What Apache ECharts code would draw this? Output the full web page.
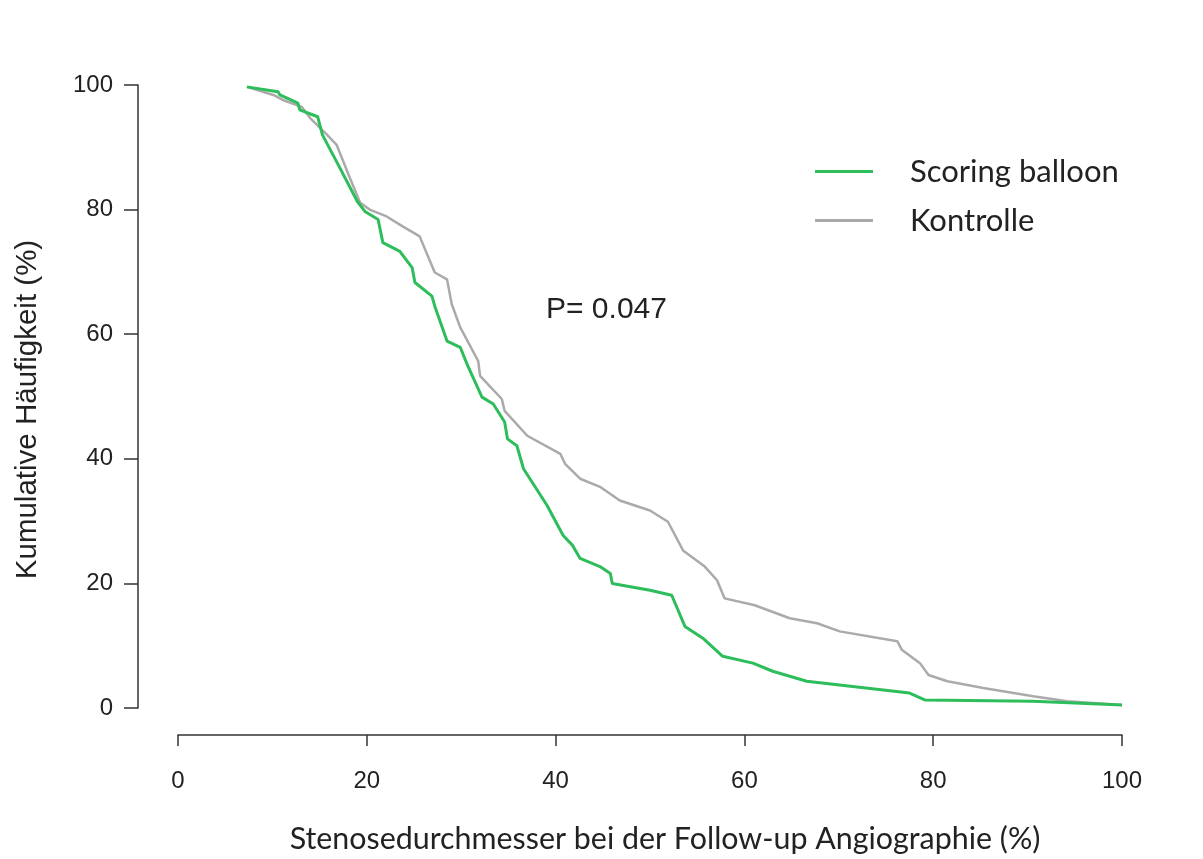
<!DOCTYPE html>
<html>
<head>
<meta charset="utf-8">
<script src="https://cdn.jsdelivr.net/npm/echarts@6/dist/echarts.min.js"></script>
<style>
  html, body { margin: 0; padding: 0; background: #fff; }
  #main { width: 1203px; height: 859px; }
</style>
</head>
<body>
<div id="main"></div>
<script>
var chart = echarts.init(document.getElementById('main'));

// Stenosedurchmesser (%) -> kumulative Häufigkeit (%)
var scoringX = [7.3, 10.6, 10.8, 12.7, 12.9, 14.8, 15.3, 16.8, 19.0, 19.8, 21.2, 21.7, 23.5, 24.8, 25.1,
    26.9, 27.2, 28.5, 29.9, 30.7, 32.2, 33.4, 34.6, 34.9, 35.9, 36.6, 39.1, 40.8, 41.8, 42.6, 44.7,
    45.8, 46.0, 50.0, 52.3, 53.7, 55.6, 57.7, 60.9, 63.0, 66.6, 77.5, 79.1, 90.6, 100];
var scoringY = [99.7, 98.9, 98.4, 97.1, 96.0, 94.9, 92.0, 87.7, 81.3, 79.7, 78.4, 74.7, 73.3, 70.7, 68.3,
    66.1, 64.5, 58.9, 57.9, 54.9, 49.9, 48.8, 45.9, 43.2, 42.1, 38.4, 32.5, 27.7, 26.1, 24.0, 22.7,
    21.6, 20.0, 18.9, 18.1, 13.1, 11.2, 8.3, 7.2, 5.9, 4.3, 2.4, 1.3, 1.1, 0.5];

var kontrolleX = [7.3, 10.1, 11.1, 13.1, 14.0, 15.8, 16.8, 18.2, 19.3, 20.3, 22.1, 23.8, 25.6, 26.4, 27.2,
    28.5, 29.0, 29.9, 31.8, 32.0, 34.3, 34.6, 37.0, 40.5, 41.0, 42.6, 44.7, 46.8, 50.0, 51.9, 53.5,
    55.8, 57.1, 57.9, 61.1, 64.8, 67.7, 70.1, 76.2, 76.7, 78.6, 79.5, 81.5, 85.3, 90.6, 94.2, 100];
var kontrolleY = [99.7, 98.4, 97.6, 96.5, 94.7, 92.0, 90.4, 85.1, 81.1, 80.0, 78.9, 77.3, 75.7, 72.8, 69.9,
    68.8, 64.8, 61.1, 55.7, 53.3, 49.6, 47.7, 43.7, 40.8, 39.2, 36.8, 35.5, 33.3, 31.7, 29.9, 25.3,
    22.7, 20.5, 17.6, 16.5, 14.4, 13.6, 12.3, 10.7, 9.3, 7.2, 5.3, 4.3, 3.2, 1.9, 1.1, 0.5];

var xTicks = [0, 20, 40, 60, 80, 100];
var yTicks = [0, 20, 40, 60, 80, 100];

function pairs(xs, ys) {
    return xs.map(function (x, i) { return [x, ys[i]]; });
}

var axisColor = '#333';
var tickFont = { fontFamily: 'Liberation Sans', fontSize: 24, color: '#222' };

var option = {
    backgroundColor: '#fff',
    animation: false,
    grid: { left: 178, right: 81, top: 85, bottom: 147 },
    legend: {
        orient: 'vertical',
        left: 815,
        top: 156,
        padding: 0,
        itemGap: 18,
        itemWidth: 58,
        itemHeight: 3,
        icon: 'rect',
        data: ['Scoring balloon', 'Kontrolle'],
        textStyle: {
            fontFamily: 'Lato',
            fontSize: 31,
            color: '#222',
            padding: [0, 0, 0, 32]
        }
    },
    xAxis: {
        type: 'value',
        min: xTicks[0],
        max: xTicks[xTicks.length - 1],
        interval: 20,
        offset: 27,
        name: 'Stenosedurchmesser bei der Follow-up Angiographie (%)',
        nameLocation: 'middle',
        nameGap: 89,
        nameTextStyle: { fontFamily: 'Lato', fontSize: 30.4, color: '#222', padding: [0, 0, 0, 30] },
        splitLine: { show: false },
        axisLine: { onZero: false, lineStyle: { color: axisColor, width: 1.5 } },
        axisTick: { length: 11, lineStyle: { color: axisColor, width: 1.5 } },
        axisLabel: Object.assign({ margin: 34 }, tickFont)
    },
    yAxis: {
        type: 'value',
        min: yTicks[0],
        max: yTicks[yTicks.length - 1],
        interval: 20,
        offset: 40,
        name: 'Kumulative Häufigkeit (%)',
        nameLocation: 'middle',
        nameGap: 95,
        nameTextStyle: { fontFamily: 'Liberation Sans', fontSize: 29.5, color: '#222', padding: [0, 26, 0, 0] },
        splitLine: { show: false },
        axisLine: { show: true, onZero: false, lineStyle: { color: axisColor, width: 1.5 } },
        axisTick: { show: true, length: 14, lineStyle: { color: axisColor, width: 1.5 } },
        axisLabel: Object.assign({ margin: 25 }, tickFont)
    },
    graphic: [{
        type: 'text',
        left: 546,
        top: 295,
        style: {
            text: 'P= 0.047',
            font: '30px "Liberation Sans"',
            fill: '#222'
        }
    }],
    series: [{
        name: 'Kontrolle',
        type: 'line',
        symbol: 'none',
        data: pairs(kontrolleX, kontrolleY),
        lineStyle: { color: '#aaaaaa', width: 2.5 },
        itemStyle: { color: '#aaaaaa' }
    }, {
        name: 'Scoring balloon',
        type: 'line',
        symbol: 'none',
        data: pairs(scoringX, scoringY),
        lineStyle: { color: '#2dbd5b', width: 3 },
        itemStyle: { color: '#2dbd5b' }
    }]
};

chart.setOption(option);
</script>
</body>
</html>
